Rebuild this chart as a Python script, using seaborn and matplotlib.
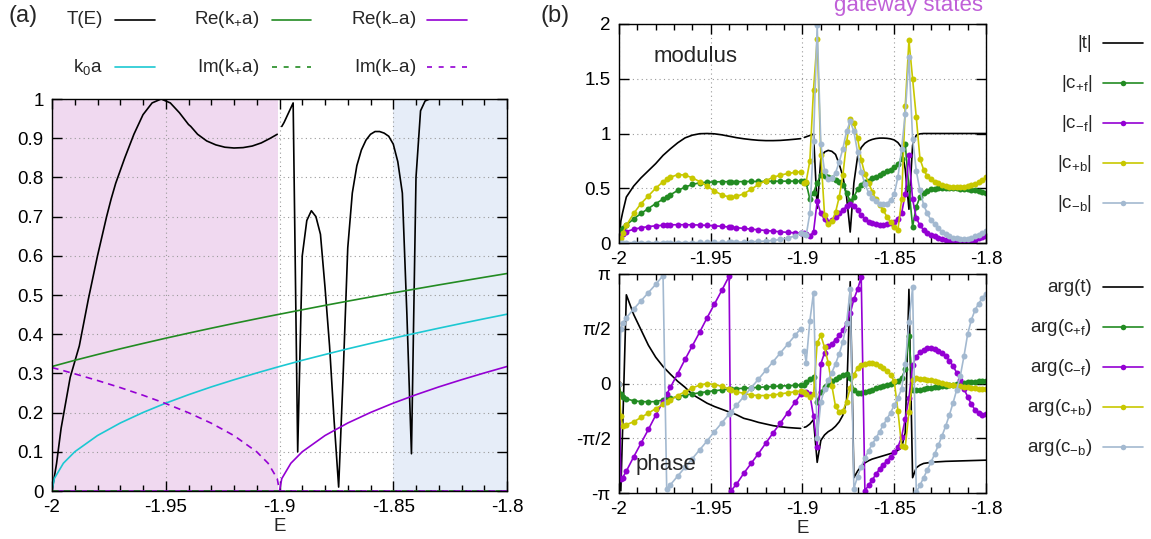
import matplotlib
matplotlib.use("Agg")
import matplotlib.pyplot as plt
import seaborn as sns
from matplotlib.lines import Line2D
from matplotlib.ticker import MultipleLocator

# ---- energy grids -------------------------------------------------------
E_left = [-2.000, -1.999, -1.998, -1.996, -1.992, -1.988, -1.984, -1.980, -1.976, -1.974,
          -1.972, -1.968, -1.964, -1.960, -1.956, -1.952, -1.948, -1.944, -1.940, -1.939,
          -1.936, -1.932, -1.928, -1.924, -1.920, -1.916, -1.912, -1.908, -1.904, -1.901]
E_right = [-1.899, -1.898, -1.896, -1.894, -1.892, -1.890, -1.888, -1.886, -1.884, -1.882,
           -1.880, -1.878, -1.876, -1.874, -1.872, -1.870, -1.868, -1.866, -1.864, -1.862,
           -1.860, -1.858, -1.856, -1.854, -1.852, -1.850, -1.848, -1.846, -1.844, -1.842,
           -1.840, -1.838, -1.836, -1.834, -1.832, -1.830, -1.828, -1.826, -1.824, -1.822,
           -1.820, -1.818, -1.816, -1.814, -1.812, -1.810, -1.808, -1.806, -1.804, -1.802,
           -1.800]
E_all = E_left + E_right
n_left = len(E_left)

# ---- panel (a) ----------------------------------------------------------
T_E = [0.0, 0.035, 0.07, 0.16, 0.29, 0.37, 0.49, 0.60, 0.70, 0.745,
       0.785, 0.85, 0.91, 0.96, 0.99, 1.0, 0.99, 0.965, 0.935, 0.93,
       0.91, 0.893, 0.883, 0.877, 0.875, 0.876, 0.88, 0.888, 0.90, 0.91,
       0.93, 0.94, 0.965, 0.99, 0.10, 0.60, 0.69, 0.715, 0.70, 0.655,
       0.52, 0.37, 0.18, 0.01, 0.30, 0.62, 0.76, 0.83, 0.87, 0.895,
       0.91, 0.917, 0.917, 0.913, 0.905, 0.885, 0.84, 0.76, 0.45, 0.095,
       0.80, 0.97, 0.995, 1.0, 1.0, 1.0, 1.0, 1.0, 1.0, 1.0,
       1.0, 1.0, 1.0, 1.0, 1.0, 1.0, 1.0, 1.0, 1.0, 1.0, 1.0]

E_k = [-2.0, -1.999, -1.995, -1.99, -1.98, -1.97, -1.96, -1.95, -1.94, -1.93,
       -1.92, -1.91, -1.905, -1.901, -1.9, -1.899, -1.895, -1.89, -1.88, -1.87,
       -1.86, -1.85, -1.84, -1.83, -1.82, -1.81, -1.8]
k0a = [0.0, 0.0316, 0.0708, 0.1001, 0.1415, 0.1734, 0.2003, 0.2241, 0.2456, 0.2655,
       0.2838, 0.3011, 0.3094, 0.3160, 0.3176, 0.3192, 0.3255, 0.3334, 0.3482, 0.3627,
       0.3764, 0.3898, 0.4027, 0.4153, 0.4275, 0.4394, 0.4510]
re_kp = [0.3176, 0.3192, 0.3255, 0.3334, 0.3482, 0.3627, 0.3764, 0.3898, 0.4027, 0.4153,
         0.4275, 0.4394, 0.4453, 0.4499, 0.4510, 0.4521, 0.4567, 0.4623, 0.4735, 0.4843,
         0.4949, 0.5054, 0.5156, 0.5257, 0.5355, 0.5452, 0.5548]
im_kp = [0.0, 0.0, 0.0, 0.0, 0.0, 0.0, 0.0, 0.0, 0.0, 0.0,
         0.0, 0.0, 0.0, 0.0, 0.0, 0.0, 0.0, 0.0, 0.0, 0.0,
         0.0, 0.0, 0.0, 0.0, 0.0, 0.0, 0.0]
re_km = [0.0, 0.0, 0.0, 0.0, 0.0, 0.0, 0.0, 0.0, 0.0, 0.0,
         0.0, 0.0, 0.0, 0.0, 0.0, 0.0316, 0.0708, 0.1001, 0.1415, 0.1734,
         0.2003, 0.2241, 0.2456, 0.2655, 0.2838, 0.3011, 0.3176]
im_km = [0.3149, 0.3133, 0.3070, 0.2989, 0.2819, 0.2638, 0.2443, 0.2231, 0.1997, 0.1730,
         0.1413, 0.0999, 0.0707, 0.0316, 0.0, 0.0, 0.0, 0.0, 0.0, 0.0,
         0.0, 0.0, 0.0, 0.0, 0.0, 0.0, 0.0]

# ---- panel (b): modulus -------------------------------------------------
mod_t = [0.0, 0.20, 0.28, 0.42, 0.52, 0.595, 0.66, 0.725, 0.80, 0.83,
         0.86, 0.915, 0.96, 0.985, 0.998, 1.0, 0.997, 0.988, 0.975, 0.972,
         0.962, 0.952, 0.944, 0.938, 0.935, 0.935, 0.937, 0.942, 0.948, 0.953,
         0.964, 0.970, 0.982, 0.995, 0.316, 0.775, 0.831, 0.846, 0.837, 0.809,
         0.721, 0.608, 0.424, 0.10, 0.548, 0.787, 0.872, 0.911, 0.933, 0.946,
         0.954, 0.958, 0.958, 0.956, 0.951, 0.941, 0.917, 0.872, 0.671, 0.308,
         0.894, 0.985, 0.997, 1.0, 1.0, 1.0, 1.0, 1.0, 1.0, 1.0,
         1.0, 1.0, 1.0, 1.0, 1.0, 1.0, 1.0, 1.0, 1.0, 1.0, 1.0]
mod_cpf = [0.10, 0.12, 0.135, 0.165, 0.22, 0.27, 0.315, 0.36, 0.40, 0.42,
           0.44, 0.48, 0.51, 0.535, 0.55, 0.555, 0.558, 0.56, 0.56, 0.56,
           0.56, 0.561, 0.562, 0.562, 0.563, 0.564, 0.564, 0.565, 0.565, 0.566,
           0.57, 0.55, 0.40, 0.46, 0.55, 0.62, 0.61, 0.60, 0.59, 0.575,
           0.56, 0.53, 0.46, 0.38, 0.42, 0.49, 0.53, 0.555, 0.57, 0.59,
           0.605, 0.62, 0.64, 0.655, 0.67, 0.69, 0.72, 0.77, 0.90, 0.50,
           0.15, 0.33, 0.42, 0.455, 0.475, 0.49, 0.497, 0.50, 0.503, 0.505,
           0.505, 0.503, 0.50, 0.497, 0.494, 0.49, 0.485, 0.48, 0.475, 0.468, 0.46]
mod_cmf = [0.04, 0.07, 0.085, 0.105, 0.125, 0.14, 0.15, 0.157, 0.162, 0.164,
           0.166, 0.167, 0.167, 0.166, 0.164, 0.161, 0.157, 0.152, 0.146, 0.145,
           0.14, 0.133, 0.127, 0.12, 0.114, 0.108, 0.102, 0.097, 0.093, 0.09,
           0.09, 0.08, 0.065, 0.10, 0.38, 0.27, 0.215, 0.195, 0.21, 0.24,
           0.27, 0.30, 0.335, 0.355, 0.34, 0.30, 0.255, 0.22, 0.195, 0.18,
           0.17, 0.165, 0.165, 0.17, 0.18, 0.195, 0.22, 0.27, 0.45, 0.80,
           0.40, 0.23, 0.16, 0.12, 0.095, 0.075, 0.06, 0.048, 0.038, 0.03,
           0.022, 0.017, 0.014, 0.012, 0.013, 0.016, 0.022, 0.03, 0.042, 0.053, 0.064]
mod_cpb = [0.0, 0.05, 0.09, 0.16, 0.27, 0.36, 0.43, 0.50, 0.56, 0.58,
           0.60, 0.625, 0.62, 0.595, 0.56, 0.52, 0.475, 0.44, 0.42, 0.42,
           0.425, 0.45, 0.49, 0.535, 0.57, 0.60, 0.62, 0.635, 0.645, 0.65,
           0.55, 0.56, 0.75, 1.40, 1.86, 0.80, 0.26, 0.17, 0.20, 0.28,
           0.42, 0.62, 0.92, 1.13, 1.10, 0.96, 0.76, 0.63, 0.55, 0.47,
           0.40, 0.35, 0.30, 0.24, 0.19, 0.15, 0.12, 0.40, 1.25, 1.85,
           1.50, 1.15, 0.77, 0.67, 0.61, 0.58, 0.56, 0.545, 0.53, 0.52,
           0.515, 0.51, 0.51, 0.512, 0.515, 0.52, 0.53, 0.54, 0.555, 0.575, 0.60]
mod_cmb = [0.0, 0.002, 0.003, 0.004, 0.004, 0.004, 0.004, 0.004, 0.004, 0.004,
           0.004, 0.004, 0.004, 0.004, 0.005, 0.005, 0.005, 0.006, 0.007, 0.007,
           0.008, 0.009, 0.011, 0.014, 0.018, 0.024, 0.032, 0.045, 0.065, 0.09,
           0.085, 0.07, 0.27, 0.93, 1.99, 0.90, 0.66, 0.58, 0.59, 0.64,
           0.74, 0.86, 1.02, 1.11, 1.02, 0.83, 0.65, 0.54, 0.46, 0.41,
           0.38, 0.36, 0.355, 0.36, 0.39, 0.45, 0.60, 0.86, 1.18, 1.70,
           0.95, 0.66, 0.48, 0.35, 0.27, 0.21, 0.17, 0.135, 0.105, 0.08,
           0.065, 0.05, 0.042, 0.037, 0.036, 0.04, 0.048, 0.06, 0.075, 0.09, 0.11]

# ---- panel (b): phase, in units of pi -----------------------------------
arg_t = [0.0, -0.98, -0.40, 0.81, 0.63, 0.49, 0.35, 0.24, 0.155, 0.12,
         0.085, 0.02, -0.035, -0.10, -0.14, -0.18, -0.21, -0.235, -0.26, -0.265,
         -0.285, -0.318, -0.335, -0.355, -0.37, -0.385, -0.395, -0.402, -0.407, -0.41,
         -0.40, -0.395, -0.37, -0.33, -0.72, -0.52, -0.47, -0.44, -0.42, -0.39,
         -0.35, -0.29, -0.16, 0.93, -0.86, -0.80, -0.755, -0.725, -0.705, -0.69,
         -0.68, -0.67, -0.66, -0.65, -0.64, -0.63, -0.61, -0.585, -0.45, 0.86,
         -0.86, -0.77, -0.745, -0.73, -0.725, -0.72, -0.717, -0.715, -0.713, -0.711,
         -0.71, -0.709, -0.708, -0.707, -0.706, -0.705, -0.704, -0.703, -0.702, -0.701, -0.70]
arg_cpf = [0.0, -0.10, -0.12, -0.14, -0.158, -0.165, -0.167, -0.165, -0.15, -0.143,
           -0.135, -0.12, -0.105, -0.095, -0.085, -0.075, -0.067, -0.058, -0.05, -0.049,
           -0.046, -0.044, -0.04, -0.035, -0.031, -0.027, -0.023, -0.02, -0.017, -0.014,
           -0.01, 0.01, 0.04, 0.06, -0.17, -0.08, -0.035, -0.005, 0.02, 0.04,
           0.06, 0.075, 0.09, 0.05, -0.06, -0.085, -0.085, -0.075, -0.065, -0.055,
           -0.045, -0.035, -0.025, -0.015, -0.005, 0.01, 0.025, 0.05, 0.13, 0.43,
           -0.06, -0.06, -0.055, -0.05, -0.045, -0.04, -0.035, -0.03, -0.025, -0.02,
           -0.015, -0.01, -0.005, 0.0, 0.005, 0.01, 0.013, 0.016, 0.019, 0.022, 0.025]
arg_cmf = [0.0, -0.87, -0.86, -0.80, -0.67, -0.545, -0.42, -0.29, -0.165, -0.10,
           -0.035, 0.09, 0.22, 0.345, 0.47, 0.60, 0.725, 0.85, 0.98, -0.98,
           -0.92, -0.82, -0.73, -0.64, -0.545, -0.45, -0.36, -0.265, -0.17, -0.10,
           -0.09, -0.08, -0.10, -0.30, -0.58, 0.18, 0.28, 0.34, 0.36, 0.40,
           0.44, 0.485, 0.55, 0.64, 0.77, 0.86, 0.97, -0.98, -0.93, -0.88,
           -0.83, -0.78, -0.74, -0.71, -0.67, -0.63, -0.58, -0.49, -0.32, -0.135,
           0.17, 0.245, 0.285, 0.31, 0.32, 0.32, 0.315, 0.30, 0.28, 0.25,
           0.21, 0.16, 0.10, 0.03, -0.05, -0.12, -0.19, -0.24, -0.27, -0.285, -0.28]
arg_cpb = [0.0, -0.30, -0.39, -0.375, -0.35, -0.31, -0.27, -0.23, -0.19, -0.17,
           -0.15, -0.11, -0.075, -0.04, -0.015, 0.0, -0.01, -0.025, -0.05, -0.055,
           -0.075, -0.09, -0.105, -0.11, -0.11, -0.105, -0.095, -0.085, -0.075, -0.07,
           -0.08, -0.10, -0.12, -0.10, 0.37, 0.44, 0.33, 0.19, -0.02, -0.21,
           -0.26, -0.25, -0.17, -0.04, 0.08, 0.14, 0.17, 0.18, 0.185, 0.185,
           0.175, 0.16, 0.14, 0.115, 0.08, 0.02, -0.25, -0.57, -0.58, -0.26,
           0.03, 0.05, 0.045, 0.04, 0.035, 0.028, 0.02, 0.013, 0.005, -0.003,
           -0.01, -0.016, -0.022, -0.027, -0.032, -0.036, -0.04, -0.043, -0.046, -0.048, -0.05]
arg_cmb = [0.0, 0.50, 0.55, 0.60, 0.68, 0.755, 0.83, 0.905, 0.985, -0.965,
           -0.925, -0.845, -0.765, -0.685, -0.605, -0.525, -0.44, -0.36, -0.28, -0.26,
           -0.20, -0.12, -0.04, 0.04, 0.12, 0.20, 0.28, 0.36, 0.44, 0.50,
           0.30, 0.19, 0.57, 0.83, -0.50, -0.17, -0.05, 0.03, 0.10, 0.18,
           0.27, 0.38, 0.55, 0.86, -0.96, -0.85, -0.76, -0.68, -0.615, -0.555,
           -0.50, -0.44, -0.38, -0.325, -0.265, -0.20, -0.13, -0.05, 0.18, 0.56,
           0.88, -0.99, -0.93, -0.86, -0.79, -0.72, -0.645, -0.565, -0.48, -0.39,
           -0.29, -0.18, -0.06, 0.07, 0.25, 0.45, 0.58, 0.67, 0.73, 0.78, 0.82]

x_ticks = [-2.0, -1.95, -1.9, -1.85, -1.8]
x_ticklabels = ["-2", "-1.95", "-1.9", "-1.85", "-1.8"]

BLACK = "#000000"
GREEN = "#228b22"
CYAN = "#1cc8d2"
PURPLE = "#9400d3"
YELLOW = "#c8c800"
LBLUE = "#a3b9d0"
PINK = "#f0d9f0"
PALEBLUE = "#e6edf8"

sns.set_theme(style="ticks")
plt.rcParams["font.family"] = ["Liberation Sans", "DejaVu Sans"]
plt.rcParams["mathtext.fontset"] = "custom"
plt.rcParams["mathtext.rm"] = "Liberation Sans"
plt.rcParams["mathtext.default"] = "rm"
FS = 13.5

W, H = 1151, 539
fig = plt.figure(figsize=(W / 100, H / 100), dpi=100)


def px_axes(x0, y0, x1, y1):
    return fig.add_axes([x0 / W, 1 - y1 / H, (x1 - x0) / W, (y1 - y0) / H])


def style_axes(ax):
    ax.set_xlim(-2, -1.8)
    ax.set_xticks(x_ticks)
    ax.set_xticklabels(x_ticklabels)
    ax.xaxis.set_minor_locator(MultipleLocator(0.01))
    ax.tick_params(which="both", direction="in", top=True, right=True,
                   color="black", labelsize=FS, labelcolor="black", pad=6)
    ax.tick_params(which="major", length=7, width=1)
    ax.tick_params(which="minor", length=4, width=1)
    ax.tick_params(axis="y", which="minor", left=False, right=False)
    for s in ax.spines.values():
        s.set_color("black")
        s.set_linewidth(1.0)
    ax.set_axisbelow(True)
    ax.grid(True, which="major", color="#9a9a9a", lw=0.8, ls=(0, (1, 3)))
    ax.set_xlabel("")
    ax.set_ylabel("")


def draw(ax, xs, ys, color, ls="-", lw=1.2):
    sns.lineplot(x=xs, y=ys, ax=ax, color=color, lw=lw, ls=ls,
                 estimator=None, sort=False, legend=False)


def draw_split(ax, vals, color, marker=True):
    kw = dict(ax=ax, color=color, lw=1.2, estimator=None, sort=False, legend=False)
    if marker:
        kw.update(marker="o", markersize=4.3, markeredgewidth=0)
    sns.lineplot(x=E_all[:n_left], y=vals[:n_left], **kw)
    sns.lineplot(x=E_all[n_left:], y=vals[n_left:], **kw)


# ---- panel (a) ----
axa = px_axes(52, 99, 507, 491)
axa.axvspan(-2, -1.9005, color=PINK, lw=0, zorder=0)
axa.axvspan(-1.85, -1.8, color=PALEBLUE, lw=0, zorder=0)
draw_split(axa, T_E, BLACK, marker=False)
draw(axa, E_k, re_kp, GREEN)
draw(axa, E_k, re_km, PURPLE)
draw(axa, E_k, k0a, CYAN)
draw(axa, E_k, im_kp, GREEN, ls=(0, (4, 3)))
draw(axa, E_k, im_km, PURPLE, ls=(0, (4, 3)))
axa.set_ylim(0, 1)
style_axes(axa)
axa.set_yticks([0, 0.1, 0.2, 0.3, 0.4, 0.5, 0.6, 0.7, 0.8, 0.9, 1.0])
axa.set_yticklabels(["0", "0.1", "0.2", "0.3", "0.4", "0.5", "0.6", "0.7", "0.8", "0.9", "1"])
axa.set_xlabel("E", fontsize=FS, labelpad=1)

# ---- panel (b) modulus ----
axm = px_axes(619, 24, 986, 243)
draw_split(axm, mod_t, BLACK, marker=False)
draw_split(axm, mod_cpf, GREEN)
draw_split(axm, mod_cmf, PURPLE)
draw_split(axm, mod_cpb, YELLOW)
draw_split(axm, mod_cmb, LBLUE)
axm.set_ylim(0, 2)
style_axes(axm)
axm.set_yticks([0, 0.5, 1, 1.5, 2])
axm.set_yticklabels(["0", "0.5", "1", "1.5", "2"])
axm.text(0.093, 0.85, "modulus", transform=axm.transAxes, fontsize=16,
         ha="left", va="center")

# ---- panel (b) phase ----
axp = px_axes(619, 274, 986, 493)
draw_split(axp, arg_t, BLACK, marker=False)
draw_split(axp, arg_cpf, GREEN)
draw_split(axp, arg_cmf, PURPLE)
draw_split(axp, arg_cpb, YELLOW)
draw_split(axp, arg_cmb, LBLUE)
axp.set_ylim(-1, 1)
style_axes(axp)
axp.set_yticks([-1, -0.5, 0, 0.5, 1])
axp.set_yticklabels(["-π", "-π/2", "0", "π/2", "π"])
axp.set_xlabel("E", fontsize=FS, labelpad=1)
axp.text(0.044, 0.128, "phase", transform=axp.transAxes, fontsize=16,
         ha="left", va="center")

# ---- annotations ----
fig.text(8 / W, 1 - 16 / H, "(a)", fontsize=17, ha="left", va="center")
fig.text(541 / W, 1 - 16 / H, "(b)", fontsize=17, ha="left", va="center")
fig.text(908 / W, 1 - 11 / H, "gateway states", fontsize=16, color="#c060d8",
         ha="center", va="baseline")


def key(label, xt, x0, x1, y, color, ls="-", marker=False):
    fy = 1 - y / H
    fig.text(xt / W, fy, label, fontsize=FS, ha="right", va="center")
    fig.add_artist(Line2D([x0 / W, x1 / W], [fy, fy], transform=fig.transFigure,
                          color=color, lw=1.2, ls=ls))
    if marker:
        fig.add_artist(Line2D([(x0 + x1) / 2 / W], [fy], transform=fig.transFigure,
                              color=color, marker="o", markersize=4, markeredgewidth=0))


DASH = (0, (3, 4))
key("T(E)", 103, 115, 155, 20, BLACK)
key("Re(k$_{+}$a)", 259, 272, 311, 20, GREEN)
key("Re(k$_{-}$a)", 416, 427, 467, 20, PURPLE)
key("k$_{0}$a", 103, 115, 155, 67, CYAN)
key("Im(k$_{+}$a)", 259, 272, 311, 67, GREEN, ls=DASH)
key("Im(k$_{-}$a)", 416, 427, 467, 67, PURPLE, ls=DASH)

mod_labels = ["|t|", "|c$_{+f}$|", "|c$_{-f}$|", "|c$_{+b}$|", "|c$_{-b}$|"]
arg_labels = ["arg(t)", "arg(c$_{+f}$)", "arg(c$_{-f}$)", "arg(c$_{+b}$)", "arg(c$_{-b}$)"]
colors = [BLACK, GREEN, PURPLE, YELLOW, LBLUE]
for i, (lab, c) in enumerate(zip(mod_labels, colors)):
    key(lab, 1092, 1103, 1143, 43 + 40 * i, c, marker=(i > 0))
for i, (lab, c) in enumerate(zip(arg_labels, colors)):
    key(lab, 1092, 1103, 1143, 287 + 40 * i, c, marker=(i > 0))

fig.savefig("out.png", dpi=100)
